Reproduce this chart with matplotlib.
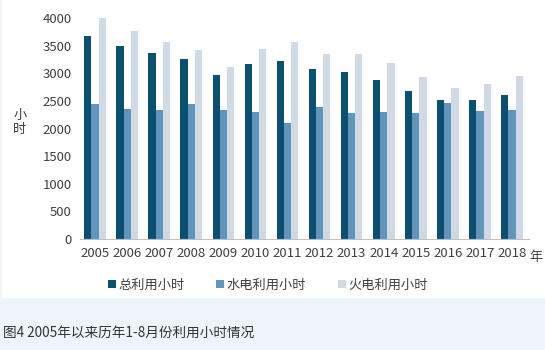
import numpy as np
import matplotlib.pyplot as plt
from matplotlib.patches import Rectangle

plt.rcParams['font.family'] = ['Noto Sans CJK SC', 'DejaVu Sans']

years = ['2005', '2006', '2007', '2008', '2009', '2010', '2011',
         '2012', '2013', '2014', '2015', '2016', '2017', '2018']
total = [3680, 3500, 3360, 3250, 2970, 3170, 3220, 3070, 3030, 2880, 2670, 2510, 2510, 2610]
hydro = [2450, 2360, 2340, 2440, 2340, 2300, 2100, 2390, 2280, 2300, 2280, 2470, 2320, 2340]
thermal = [4000, 3760, 3570, 3420, 3110, 3440, 3570, 3340, 3340, 3190, 2930, 2740, 2800, 2950]
names = ['总利用小时', '水电利用小时', '火电利用小时']
colors = ['#0c4f70', '#6295bd', '#cfdae6']

fig = plt.figure(figsize=(5.45, 3.5), dpi=100)
fig.patch.set_facecolor('#edf4fb')

# white panel behind the chart
bg = fig.add_axes([0, 0, 1, 1], zorder=-5)
bg.axis('off')
bg.set_xlim(0, 545)
bg.set_ylim(350, 0)
bg.add_patch(Rectangle((2, 0), 543, 298, facecolor='white', edgecolor='none'))

ax = fig.add_axes([80/545, 1-239/350, 449/545, 221/350], zorder=1)
ax.set_facecolor('none')
x = np.arange(len(years))
w = 0.225
for i, (vals, c, n) in enumerate(zip([total, hydro, thermal], colors, names)):
    ax.bar(x + (i-1)*w, vals, w, color=c, label=n, zorder=2)

ax.set_xlim(-0.47, 13.53)
ax.set_ylim(0, 4000)
ax.set_yticks(np.arange(0, 4001, 500))
ax.set_xticks(x)
ax.set_xticklabels(years)
ax.tick_params(axis='both', length=0, labelsize=9.5, labelcolor='#404040')
ax.tick_params(axis='y', pad=6)
ax.tick_params(axis='x', pad=6)
for s in ['top', 'right', 'left']:
    ax.spines[s].set_visible(False)
ax.spines['bottom'].set_color('#bfbfbf')

fig.text(20/545, 1-122/350, '小\n时', ha='center', va='center', fontsize=9.5,
         color='#404040', linespacing=1.1)
fig.text(536/545, 1-258/350, '年', ha='center', va='center', fontsize=9.5, color='#404040')

fig.legend(loc='center', bbox_to_anchor=(268/545, 1-285/350), ncol=3, frameon=False,
           fontsize=9.5, handlelength=0.6, handleheight=0.6, handletextpad=0.2,
           columnspacing=2.4, labelcolor='#404040')

fig.text(3/545, 1-333/350, '图4 2005年以来历年1-8月份利用小时情况', ha='left', va='center',
         fontsize=9.8, color='#333333')

fig.savefig('out.png', dpi=100, facecolor=fig.get_facecolor())
